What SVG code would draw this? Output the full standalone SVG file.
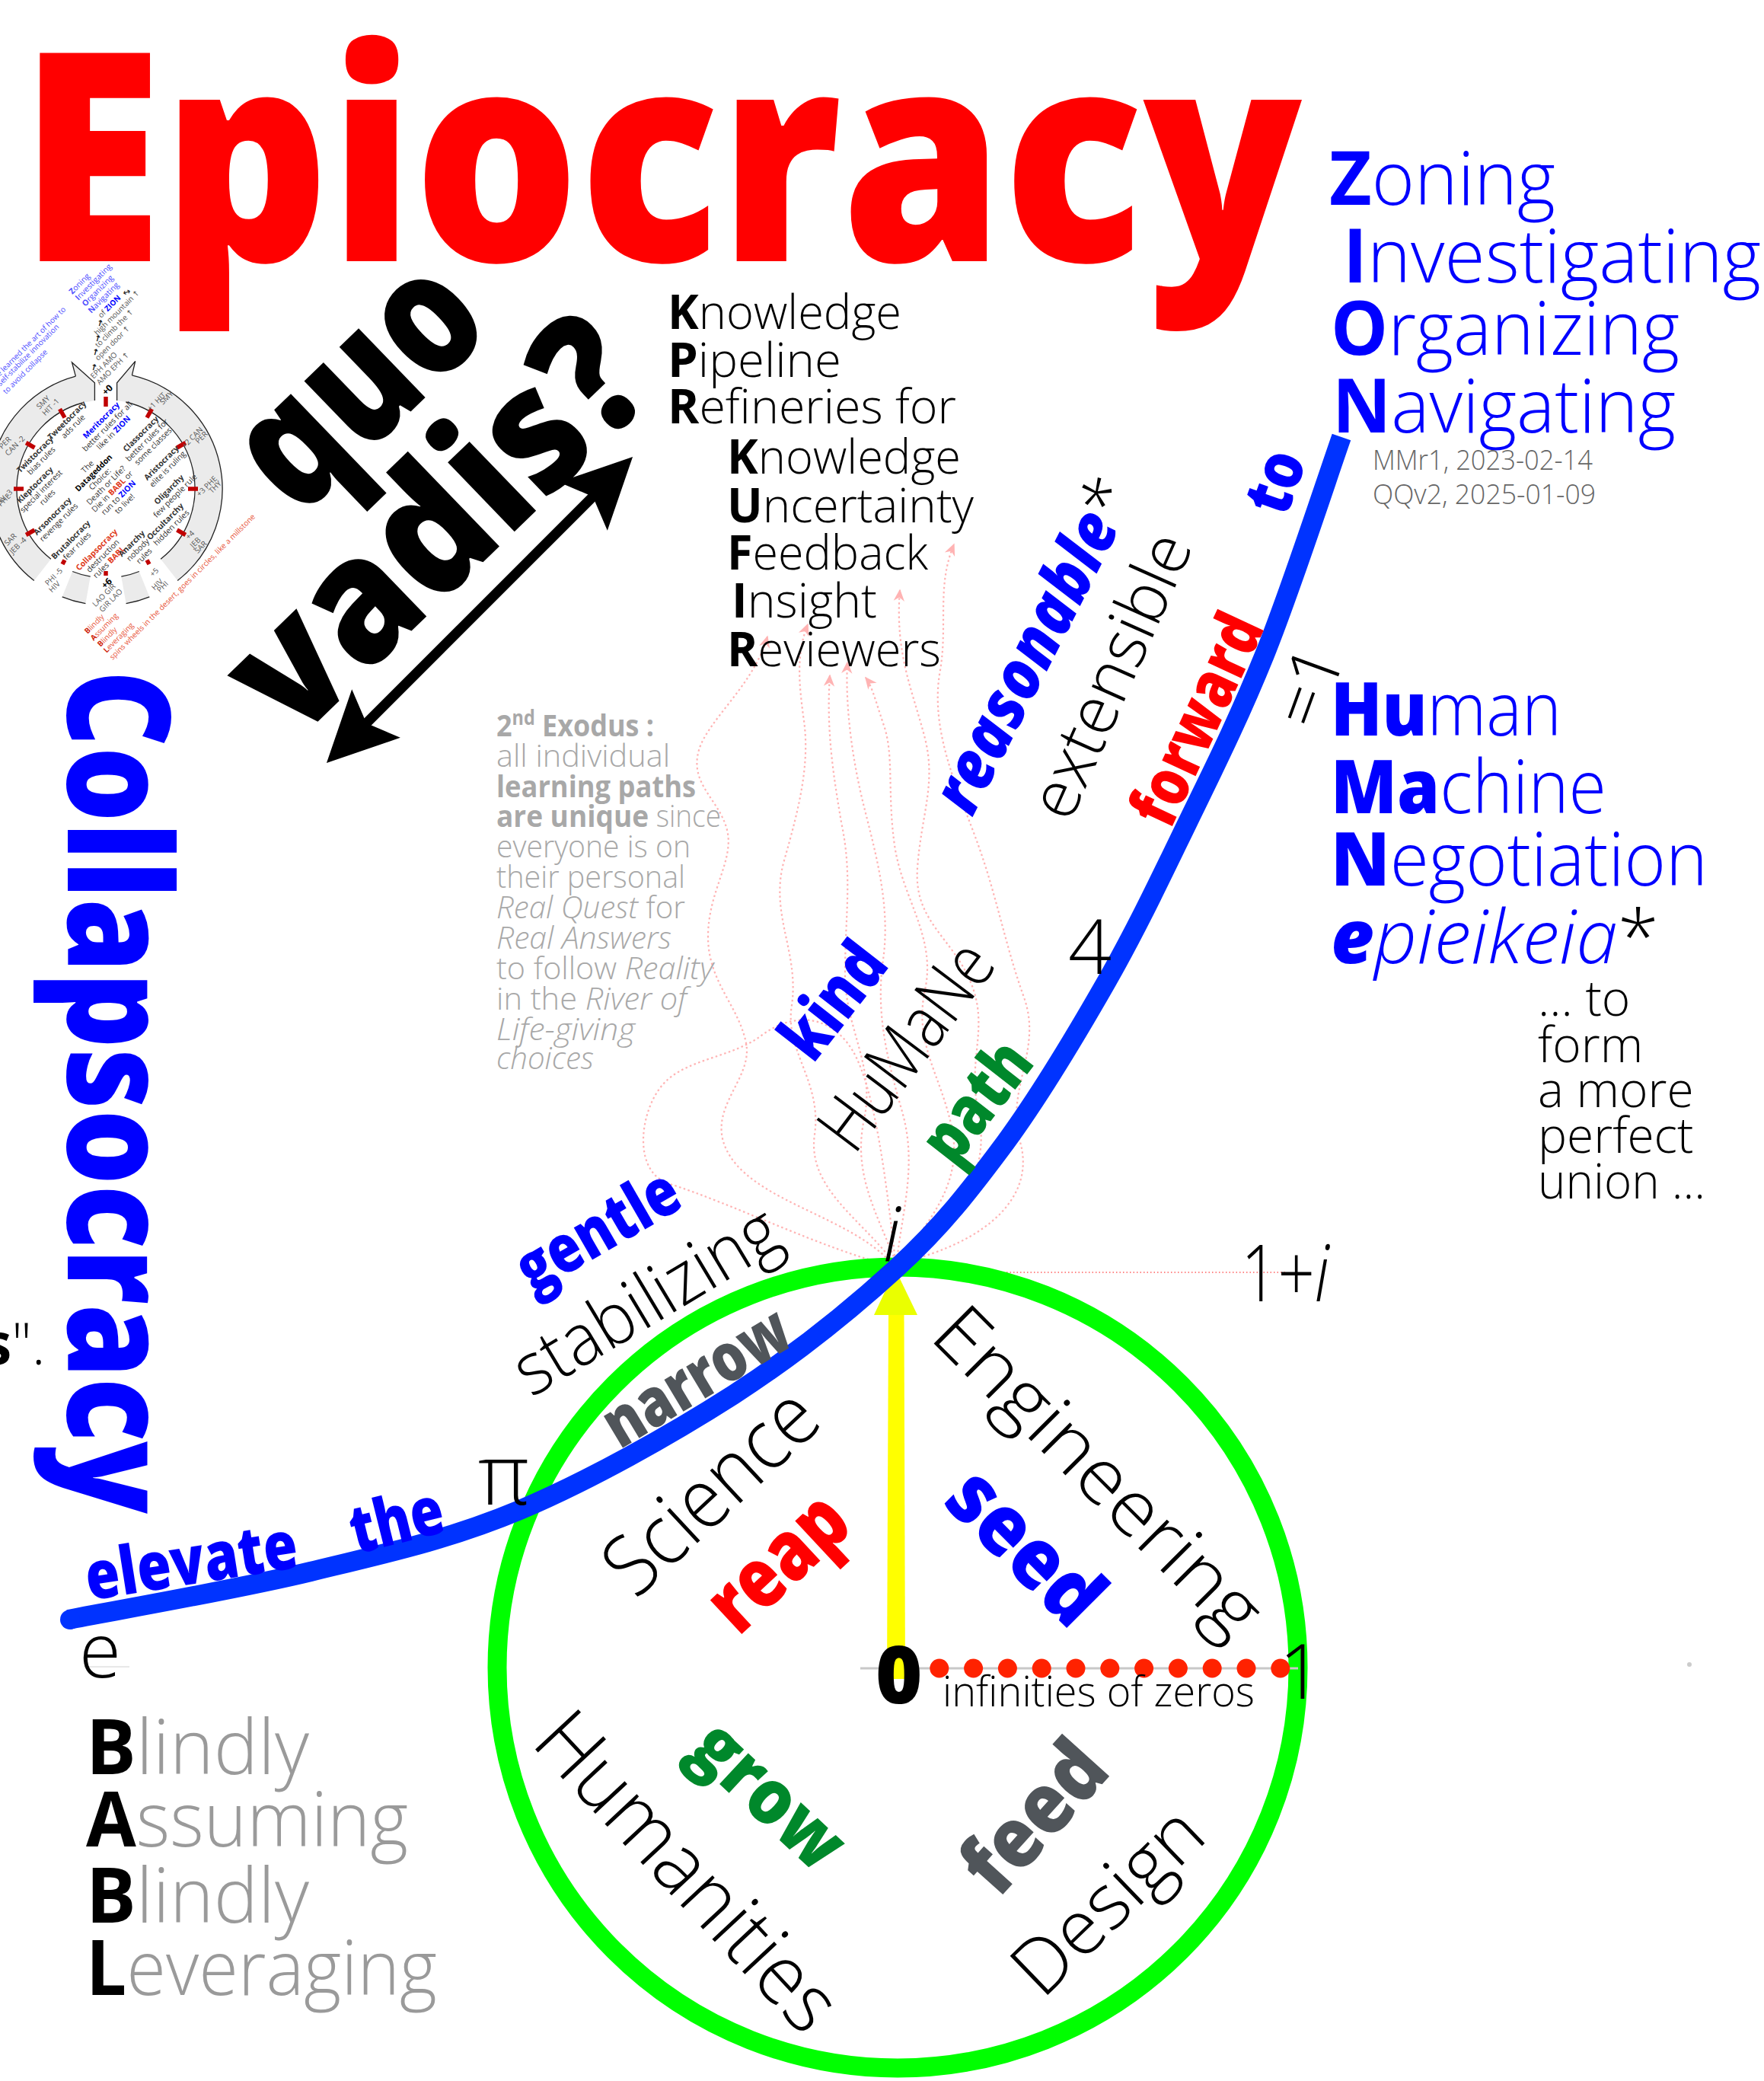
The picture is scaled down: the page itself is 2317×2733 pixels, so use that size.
<svg xmlns="http://www.w3.org/2000/svg" width="2317" height="2733" viewBox="0 0 2317 2733">
<defs>
<style>
text{font-family:"Open Sans","Noto Sans","DejaVu Sans",sans-serif;fill:#000}
.L{font-weight:300}.B{font-weight:700}.X{font-weight:800}.I{font-style:italic}.N{font-style:normal}
.blue{fill:#0000ff}.red{fill:#ff0000}.grn{fill:#00882b}.dg{fill:#50555a}.gry{fill:#a8a8a8}.g9{fill:#9a9a9a}.blk{fill:#000}.mg{fill:#666}
.lp{fill:none;stroke:#ffb3b3;stroke-width:2.2;stroke-dasharray:2.5 3.5;marker-end:url(#pa)}
.lp0{fill:none;stroke:#ffb3b3;stroke-width:2.2;stroke-dasharray:2.5 3.5}
.mt{font-size:10.5px;fill:#333}
.mr{font-size:10px;fill:#555}
.mb{font-size:10.5px;fill:#4d4dff}
.mred{font-size:10px;fill:#e8553a}
.arc{fill:none;stroke:#222;stroke-width:1.3}
.tick{stroke:#c00000;stroke-width:5.5}
</style>
<marker id="pa" viewBox="0 0 10 10" refX="9" refY="5" markerWidth="16" markerHeight="16" markerUnits="userSpaceOnUse" orient="auto"><path d="M0,0.5 L10,5 L0,9.5 L3,5 Z" fill="#ffb3b3"/></marker>
<marker id="bh" viewBox="-95 -50 100 100" refX="-20" refY="0" markerWidth="100" markerHeight="100" markerUnits="userSpaceOnUse" orient="auto-start-reverse"><path d="M0,0 L-92,-45 L-74,0 L-92,45 Z" fill="#000"/></marker>
</defs>
<rect width="2317" height="2733" fill="#fff"/>

<g id="mini-diagram">
<path fill="#ebebeb" d="M153.6,526 L153.6,502.8 L177.7,474.4 L173.4,492.9 A153,153 0 0 1 233.2,762.6 L211.1,734.2 A117,117 0 0 0 165.3,528 Z"/>
<path fill="#ebebeb" d="M66.9,734.2 L44.8,762.6 A153,153 0 0 1 99.4,494.2 L94.5,475.9 L124.4,502.8 L124.4,526 L108.7,529 A117,117 0 0 0 66.9,734.2 Z"/>
<path fill="#ebebeb" d="M196.3,783.8 A153,153 0 0 1 165.6,792.7 L159.3,757.2 A117,117 0 0 0 182.8,750.5 Z"/>
<path fill="#ebebeb" d="M112.4,792.7 A153,153 0 0 1 81.7,783.8 L95.2,750.5 A117,117 0 0 0 118.7,757.2 Z"/>
<path class="arc" d="M173.4,492.9 A153,153 0 0 1 233.2,762.6 M165.3,528 A117,117 0 0 1 211.1,734.2 M44.8,762.6 A153,153 0 0 1 99.4,494.2 M66.9,734.2 A117,117 0 0 1 108.7,529 M196.3,783.8 A153,153 0 0 1 165.6,792.7 M182.8,750.5 A117,117 0 0 1 159.3,757.2 M112.4,792.7 A153,153 0 0 1 81.7,783.8 M118.7,757.2 A117,117 0 0 1 95.2,750.5 M173.4,492.9 L177.7,474.4 L153.6,502.8 L153.6,526 M99.4,494.2 L94.5,475.9 L124.4,502.8 L124.4,526"/>
<g class="tick">
<line x1="139" y1="534" x2="139" y2="521"/>
<line x1="193" y1="548.5" x2="199.5" y2="537.2"/>
<line x1="232.5" y1="588" x2="243.8" y2="581.5"/>
<line x1="247" y1="642" x2="260" y2="642"/>
<line x1="232.5" y1="696" x2="243.8" y2="702.5"/>
<line x1="193" y1="735.5" x2="196" y2="741"/>
<line x1="139" y1="750" x2="139" y2="756"/>
<line x1="85" y1="735.5" x2="82" y2="741"/>
<line x1="45.5" y1="696" x2="34.2" y2="702.5"/>
<line x1="31" y1="642" x2="18" y2="642"/>
<line x1="45.5" y1="588" x2="34.2" y2="581.5"/>
<line x1="85" y1="548.5" x2="78.5" y2="537.2"/>
</g>
<text class="mr B" style="fill:#000;font-size:12px" transform="translate(144,515) rotate(-45)" text-anchor="middle">+0</text>
<text class="mr" transform="translate(208,530) rotate(-45)" text-anchor="middle">+1 HIT</text>
<text class="mr" transform="translate(221,525) rotate(-45)" text-anchor="middle">SMY</text>
<text class="mr" transform="translate(255,577) rotate(-45)" text-anchor="middle">+2 CAN</text>
<text class="mr" transform="translate(267,577) rotate(-45)" text-anchor="middle">PER</text>
<text class="mr" transform="translate(274,641) rotate(-45)" text-anchor="middle">+3 PHE</text>
<text class="mr" transform="translate(285,642) rotate(-45)" text-anchor="middle">THY</text>
<text class="mr" transform="translate(252,705) rotate(-45)" text-anchor="middle">+4</text>
<text class="mr" transform="translate(259,715) rotate(-45)" text-anchor="middle">JEB</text>
<text class="mr" transform="translate(266,721) rotate(-45)" text-anchor="middle">SAR</text>
<text class="mr" transform="translate(205,754) rotate(-45)" text-anchor="middle">+5</text>
<text class="mr" transform="translate(209,770) rotate(-45)" text-anchor="middle">HIV</text>
<text class="mr" transform="translate(216,773) rotate(-45)" text-anchor="middle">PHI</text>
<text class="mr B" style="fill:#000;font-size:12px" transform="translate(143,769) rotate(-45)" text-anchor="middle">+6</text>
<text class="mr" transform="translate(139,784) rotate(-45)" text-anchor="middle">LAO GIR</text>
<text class="mr" transform="translate(148,791) rotate(-45)" text-anchor="middle">GIR LAO</text>
<text class="mr" transform="translate(73,760) rotate(-45)" text-anchor="middle">PHI -5</text>
<text class="mr" transform="translate(74,773) rotate(-45)" text-anchor="middle">HIV</text>
<text class="mr" transform="translate(16,711) rotate(-45)" text-anchor="middle">SAR</text>
<text class="mr" transform="translate(26,719) rotate(-45)" text-anchor="middle">JEB -4</text>
<text class="mr" transform="translate(17,647) rotate(-45)" text-anchor="end">THY -3</text>
<text class="mr" transform="translate(8,659) rotate(-45)" text-anchor="middle">PHE</text>
<text class="mr" transform="translate(9,584) rotate(-45)" text-anchor="middle">PER</text>
<text class="mr" transform="translate(22,588) rotate(-45)" text-anchor="middle">CAN -2</text>
<text class="mr" transform="translate(59,531) rotate(-45)" text-anchor="middle">SMY</text>
<text class="mr" transform="translate(69,537) rotate(-45)" text-anchor="middle">HIT -1</text>
<text class="mt" transform="translate(88,552) rotate(-45)" text-anchor="middle"><tspan x="0" y="3.5" class="B">Tweetocracy</tspan><tspan x="0" dy="11.5">ads rule</tspan></text>
<text class="mt" transform="translate(133,552) rotate(-45)" text-anchor="middle"><tspan x="0" y="3.5" class="B" style="fill:#0000ff">Meritocracy</tspan><tspan x="0" dy="11.5">better rules for all</tspan><tspan x="0" dy="11.5">like in <tspan class="B" style="fill:#0000ff">ZION</tspan></tspan></text>
<text class="mt" transform="translate(185,570) rotate(-45)" text-anchor="middle"><tspan x="0" y="3.5" class="B">Classocracy</tspan><tspan x="0" dy="11.5">better rules for</tspan><tspan x="0" dy="11.5">some classes</tspan></text>
<text class="mt" transform="translate(46,597) rotate(-45)" text-anchor="middle"><tspan x="0" y="3.5" class="B">Twistocracy</tspan><tspan x="0" dy="11.5">bias rules</tspan></text>
<text class="mt" transform="translate(46,637) rotate(-45)" text-anchor="middle"><tspan x="0" y="3.5" class="B">Kleptocracy</tspan><tspan x="0" dy="11.5">special interest</tspan><tspan x="0" dy="11.5">rules</tspan></text>
<text class="mt" transform="translate(212,608) rotate(-45)" text-anchor="middle"><tspan x="0" y="3.5" class="B">Aristocracy</tspan><tspan x="0" dy="11.5">elite is ruling</tspan></text>
<text class="mt" transform="translate(222,643) rotate(-45)" text-anchor="middle"><tspan x="0" y="3.5" class="B">Oligarchy</tspan><tspan x="0" dy="11.5">few people rule</tspan></text>
<text class="mt" transform="translate(69,678) rotate(-45)" text-anchor="middle"><tspan x="0" y="3.5" class="B">Arsonocracy</tspan><tspan x="0" dy="11.5">revenge rules</tspan></text>
<text class="mt" transform="translate(217,685) rotate(-45)" text-anchor="middle"><tspan x="0" y="3.5" class="B">Occultarchy</tspan><tspan x="0" dy="11.5">hidden rules</tspan></text>
<text class="mt" transform="translate(93,709) rotate(-45)" text-anchor="middle"><tspan x="0" y="3.5" class="B">Brutalocracy</tspan><tspan x="0" dy="11.5">fear rules</tspan></text>
<text class="mt" transform="translate(127,722) rotate(-45)" text-anchor="middle"><tspan x="0" y="3.5" class="B" style="fill:#e03a20">Collapsocracy</tspan><tspan x="0" dy="11.5">destruction</tspan><tspan x="0" dy="11.5">rules <tspan class="B" style="fill:#e03a20">BABL</tspan></tspan></text>
<text class="mt" transform="translate(173,714) rotate(-45)" text-anchor="middle"><tspan x="0" y="3.5" class="B">Anarchy</tspan><tspan x="0" dy="11.5">nobody</tspan><tspan x="0" dy="11.5">rules</tspan></text>
<text class="mt" transform="translate(115,613) rotate(-45)" text-anchor="middle"><tspan x="0" y="3.5">The</tspan><tspan x="0" dy="11.5" class="B" style="fill:#000">Datageddon</tspan><tspan x="0" dy="11.5">Choice:</tspan><tspan x="0" dy="11.5">Death or Life?</tspan><tspan x="0" dy="11.5">Die in <tspan class="B" style="fill:#e03a20">BABL</tspan> or</tspan><tspan x="0" dy="11.5">run to <tspan class="B" style="fill:#0000ff">ZION</tspan></tspan><tspan x="0" dy="11.5">to live!</tspan></text>
<text class="mb" transform="translate(95,387) rotate(-45)"><tspan class="B">Z</tspan>oning</text>
<text class="mb" transform="translate(103,395) rotate(-45)"><tspan class="B">I</tspan>nvestigating</text>
<text class="mb" transform="translate(112,403) rotate(-45)"><tspan class="B">O</tspan>rganizing</text>
<text class="mb" transform="translate(120,412) rotate(-45)"><tspan class="B">N</tspan>avigating</text>
<text class="mr" transform="translate(133,418) rotate(-45)">of <tspan class="B" style="fill:#0000ff">ZION</tspan></text>
<text class="mr" transform="translate(128,441) rotate(-45)">high mountain ↑</text>
<text class="mr" transform="translate(129,457) rotate(-45)">to climb the ↑</text>
<text class="mr" transform="translate(129,474) rotate(-45)">open door ↑</text>
<text class="mr" transform="translate(123,498) rotate(-45)">EPH AMO</text>
<text class="mr" transform="translate(131,506) rotate(-45)">AMO EPH ↑</text>
<text class="mr" style="fill:#222;font-size:12px" transform="translate(163,389) rotate(-20)">↔</text>
<text class="mr B" style="fill:#111;font-size:11px" transform="translate(126,427) rotate(15)">↑</text>
<text class="mr B" style="fill:#111;font-size:11px" transform="translate(123,447) rotate(15)">↑</text>
<text class="mr B" style="fill:#111;font-size:11px" transform="translate(120,465) rotate(15)">↑</text>
<text class="mr B" style="fill:#111;font-size:11px" transform="translate(118,485) rotate(15)">↑</text>
<text class="mb" style="font-size:10px" transform="translate(87,407) rotate(-45)" text-anchor="end">we learned the art of how to</text>
<text class="mb" style="font-size:10px" transform="translate(78,430) rotate(-45)" text-anchor="end">self-stabilize innovation</text>
<text class="mb" style="font-size:10px" transform="translate(63,463) rotate(-45)" text-anchor="end">to avoid collapse</text>
<text class="mred" transform="translate(115,833) rotate(-45)"><tspan class="B" style="fill:#d02a10">B</tspan>lindly</text>
<text class="mred" transform="translate(123,842) rotate(-45)"><tspan class="B" style="fill:#d02a10">A</tspan>ssuming</text>
<text class="mred" transform="translate(132,850) rotate(-45)"><tspan class="B" style="fill:#d02a10">B</tspan>lindly</text>
<text class="mred" transform="translate(140,858) rotate(-45)"><tspan class="B" style="fill:#d02a10">L</tspan>everaging</text>
<text class="mred" transform="translate(148,867) rotate(-45)">spins wheels in the desert, goes in circles, like a millstone</text>
</g>

<g id="connectors">
<g id="learning-paths">
<path class="lp" d="M1172,1660 C1120,1600 1000,1580 960,1520 C920,1460 990,1420 980,1370 C970,1320 930,1290 930,1230 C930,1170 965,1130 955,1090 C945,1050 905,1030 918,985 C930,945 990,900 1008,836"/>
<path class="lp" d="M1174,1658 C1130,1600 1060,1560 1070,1490 C1080,1420 1030,1380 1040,1320 C1050,1250 1010,1200 1030,1130 C1050,1060 1065,1000 1055,940 C1050,900 1045,860 1061,820"/>
<path class="lp" d="M1176,1656 C1150,1590 1120,1540 1135,1470 C1150,1400 1110,1350 1110,1280 C1110,1200 1120,1150 1105,1080 C1095,1020 1085,960 1090,887"/>
<path class="lp" d="M1178,1656 C1185,1590 1205,1530 1185,1460 C1165,1390 1150,1330 1160,1260 C1170,1190 1150,1120 1135,1060 C1120,1000 1110,930 1113,870"/>
<path class="lp" d="M1180,1656 C1225,1600 1265,1550 1250,1480 C1235,1410 1200,1370 1215,1300 C1230,1230 1185,1180 1175,1110 C1165,1040 1175,990 1160,950 C1150,920 1145,900 1137,890"/>
<path class="lp" d="M1182,1656 C1270,1600 1300,1530 1285,1460 C1270,1390 1300,1350 1275,1290 C1250,1230 1200,1210 1205,1140 C1210,1070 1230,1030 1215,970 C1200,910 1175,860 1182,775"/>
<path class="lp" d="M1184,1658 C1300,1630 1360,1570 1340,1500 C1320,1430 1370,1380 1345,1310 C1320,1240 1310,1180 1285,1110 C1260,1040 1220,960 1235,880 C1245,820 1230,770 1253,715"/>
<path class="lp0" d="M1170,1662 C1080,1640 960,1580 880,1555 C830,1540 840,1460 870,1425 C900,1390 960,1390 1000,1360 C1040,1330 1090,1330 1120,1380 C1150,1430 1165,1560 1176,1656"/>
</g>
<line x1="1178" y1="1671" x2="1690" y2="1671" stroke="#ff6060" stroke-width="1.3" stroke-dasharray="1.5 3"/>
<line id="quo-vadis-arrow" x1="443.1" y1="987.9" x2="816.9" y2="614.1" stroke="#000" stroke-width="13" marker-start="url(#bh)" marker-end="url(#bh)"/>
</g>

<g id="unit-circle">
<circle cx="1179" cy="2190" r="526" fill="none" stroke="#00ff00" stroke-width="25"/>
<line x1="1130" y1="2191" x2="1705" y2="2191" stroke="#c8c8c8" stroke-width="3"/>
<line x1="110" y1="2189" x2="170" y2="2189" stroke="#e8e8e8" stroke-width="2"/>
<line x1="1189" y1="2191" x2="1690" y2="2191" stroke="#ff2200" stroke-width="25" stroke-linecap="round" stroke-dasharray="0 44.8"/>
<polygon points="1165,2205 1189,2205 1187.5,1725 1167,1725" fill="#ffff00"/>
<polygon points="1148,1727 1205,1727 1176,1667" fill="#eaff00"/>
</g>

<g id="curve">
<path d="M90,2127 C143,2116.5 309,2088 408,2064 C507,2040 590,2022 683,1983 C775,1944 880,1885 963,1832 C1045,1779 1118,1720 1178,1665 C1238,1610 1275,1562 1321,1500 C1367,1437 1413,1360 1453,1290 C1493,1220 1525,1152 1560,1080 C1595,1008 1627,944 1661,860 C1695,776 1745,622 1762,574" fill="none" stroke="#0033ff" stroke-width="26"/>
<circle cx="92" cy="2127" r="13" fill="#0033ff"/>
</g>

<g id="title">
<text x="26" y="343" font-size="383" class="X red" textLength="1684" lengthAdjust="spacingAndGlyphs">Epiocracy</text>
</g>

<g id="quo-vadis">
<text font-size="228" class="X" transform="translate(393,682) rotate(-44)" textLength="360" lengthAdjust="spacingAndGlyphs">quo</text>
<text font-size="228" class="X" transform="translate(386,978) rotate(-44)" textLength="668" lengthAdjust="spacingAndGlyphs">vadis?</text>
</g>

<g id="collapsocracy">
<text font-size="188" class="X blue" transform="translate(89,880) rotate(90)" textLength="1108" lengthAdjust="spacingAndGlyphs">Collapsocracy</text>
<text x="-22" y="1792" font-size="75"><tspan class="B">s</tspan><tspan class="L">".</tspan></text>
</g>

<g id="kpr-kufir" font-size="62">
<text x="877" y="432" class="L" textLength="307" lengthAdjust="spacingAndGlyphs"><tspan class="B">K</tspan>nowledge</text>
<text x="877" y="495" class="L" textLength="228" lengthAdjust="spacingAndGlyphs"><tspan class="B">P</tspan>ipeline</text>
<text x="877" y="556" class="L" textLength="379" lengthAdjust="spacingAndGlyphs"><tspan class="B">R</tspan>efineries for</text>
<text x="955" y="622" class="L" textLength="307" lengthAdjust="spacingAndGlyphs"><tspan class="B">K</tspan>nowledge</text>
<text x="955" y="686" class="L" textLength="324" lengthAdjust="spacingAndGlyphs"><tspan class="B">U</tspan>ncertainty</text>
<text x="955" y="748" class="L" textLength="264" lengthAdjust="spacingAndGlyphs"><tspan class="B">F</tspan>eedback</text>
<text x="961" y="811" class="L" textLength="191" lengthAdjust="spacingAndGlyphs"><tspan class="B">I</tspan>nsight</text>
<text x="955" y="875" class="L" textLength="281" lengthAdjust="spacingAndGlyphs"><tspan class="B">R</tspan>eviewers</text>
</g>

<g id="zion" font-size="98">
<text x="1746" y="269" class="L blue" textLength="297" lengthAdjust="spacingAndGlyphs"><tspan class="B">Z</tspan>oning</text>
<text x="1764" y="371" class="L blue" textLength="549" lengthAdjust="spacingAndGlyphs"><tspan class="B">I</tspan>nvestigating</text>
<text x="1748" y="466" class="L blue" textLength="458" lengthAdjust="spacingAndGlyphs"><tspan class="B">O</tspan>rganizing</text>
<text x="1750" y="568" class="L blue" textLength="451" lengthAdjust="spacingAndGlyphs"><tspan class="B">N</tspan>avigating</text>
<text x="1803" y="617" font-size="37" class="L mg" textLength="289" lengthAdjust="spacingAndGlyphs">MMr1, 2023-02-14</text>
<text x="1803" y="662" font-size="37" class="L mg" textLength="293" lengthAdjust="spacingAndGlyphs">QQv2, 2025-01-09</text>
</g>

<g id="hmn" font-size="97">
<text x="1748" y="966" class="L blue" textLength="303" lengthAdjust="spacingAndGlyphs"><tspan class="X">Hu</tspan>man</text>
<text x="1748" y="1068" class="L blue" textLength="362" lengthAdjust="spacingAndGlyphs"><tspan class="X">Ma</tspan>chine</text>
<text x="1748" y="1163" class="L blue" textLength="495" lengthAdjust="spacingAndGlyphs"><tspan class="X">N</tspan>egotiation</text>
<text x="1748" y="1265" class="L I blue" textLength="431" lengthAdjust="spacingAndGlyphs"><tspan class="X">e</tspan>pieikeia<tspan class="N blk">*</tspan></text>
<g font-size="64" class="L">
<text x="2020" y="1334" class="L">... to</text>
<text x="2020" y="1395" class="L">form</text>
<text x="2020" y="1454" class="L">a more</text>
<text x="2020" y="1514" class="L">perfect</text>
<text x="2020" y="1574" class="L" textLength="220" lengthAdjust="spacingAndGlyphs">union ...</text>
</g>
</g>

<g id="exodus" font-size="40">
<text x="652" y="967" class="B gry" textLength="207" lengthAdjust="spacingAndGlyphs">2<tspan font-size="26" dy="-15">nd</tspan><tspan dy="15"> Exodus :</tspan></text>
<text x="652" y="1007" class="L gry" textLength="228" lengthAdjust="spacingAndGlyphs">all individual</text>
<text x="652" y="1047" class="B gry" textLength="262" lengthAdjust="spacingAndGlyphs">learning paths</text>
<text x="652" y="1086" class="L gry" textLength="295" lengthAdjust="spacingAndGlyphs"><tspan class="B">are unique</tspan> since</text>
<text x="652" y="1126" class="L gry" textLength="255" lengthAdjust="spacingAndGlyphs">everyone is on</text>
<text x="652" y="1166" class="L gry" textLength="248" lengthAdjust="spacingAndGlyphs">their personal</text>
<text x="652" y="1206" class="L gry" textLength="248" lengthAdjust="spacingAndGlyphs"><tspan class="I">Real Quest</tspan> for</text>
<text x="652" y="1246" class="L I gry" textLength="230" lengthAdjust="spacingAndGlyphs">Real Answers</text>
<text x="652" y="1286" class="L gry" textLength="285" lengthAdjust="spacingAndGlyphs">to follow <tspan class="I">Reality</tspan></text>
<text x="652" y="1326" class="L gry" textLength="250" lengthAdjust="spacingAndGlyphs">in the <tspan class="I">River of</tspan></text>
<text x="652" y="1366" class="L I gry" textLength="182" lengthAdjust="spacingAndGlyphs">Life-giving</text>
<text x="652" y="1404" class="L I gry" textLength="128" lengthAdjust="spacingAndGlyphs">choices</text>
</g>

<g id="babl" font-size="100">
<text x="113" y="2330" class="L g9" textLength="293" lengthAdjust="spacingAndGlyphs"><tspan class="B blk">B</tspan>lindly</text>
<text x="113" y="2425" class="L g9" textLength="423" lengthAdjust="spacingAndGlyphs"><tspan class="B blk">A</tspan>ssuming</text>
<text x="113" y="2525" class="L g9" textLength="293" lengthAdjust="spacingAndGlyphs"><tspan class="B blk">B</tspan>lindly</text>
<text x="113" y="2620" class="L g9" textLength="461" lengthAdjust="spacingAndGlyphs"><tspan class="B blk">L</tspan>everaging</text>
</g>

<g id="numbers">
<text x="104" y="2203" font-size="100" class="L">e</text>
<text x="628" y="1976" font-size="110" class="L">π</text>
<text x="1160" y="1657" font-size="100" class="L I">i</text>
<text x="1150" y="2237" font-size="105" class="X">0</text>
<text x="1680" y="2231" font-size="100" class="L">1</text>
<text x="1238" y="2241" font-size="55" class="L" textLength="410" lengthAdjust="spacingAndGlyphs">infinities of zeros</text>
<text x="1630" y="1709" font-size="104" class="L" textLength="116" lengthAdjust="spacingAndGlyphs">1+<tspan class="I">i</tspan></text>
<text x="1403" y="1279" font-size="100" class="L">4</text>
<text font-size="92" class="L" transform="translate(1731,962) rotate(-70)">=1</text>
<circle cx="2219" cy="2186" r="3" fill="#cccccc"/>
</g>

<g id="path-words">
<text font-size="88" class="X blue" transform="translate(117,2102) rotate(-9)" textLength="281" lengthAdjust="spacingAndGlyphs">elevate</text>
<text font-size="88" class="X blue" transform="translate(468,2041) rotate(-14)" textLength="124" lengthAdjust="spacingAndGlyphs">the</text>
<text font-size="88" class="X blue" transform="translate(699,1700) rotate(-30)" textLength="233" lengthAdjust="spacingAndGlyphs">gentle</text>
<text font-size="95" class="L" transform="translate(698,1836) rotate(-31)" textLength="390" lengthAdjust="spacingAndGlyphs">stabilizing</text>
<text font-size="88" class="X dg" transform="translate(814,1904) rotate(-31)" textLength="271" lengthAdjust="spacingAndGlyphs">narrow</text>
<text font-size="110" class="L" transform="translate(835,2102) rotate(-43)" textLength="340" lengthAdjust="spacingAndGlyphs">Science</text>
<text font-size="110" class="X red" transform="translate(970,2150) rotate(-43)" textLength="210" lengthAdjust="spacingAndGlyphs">reap</text>
<text font-size="90" class="X blue" transform="translate(1068,1398) rotate(-52)" textLength="165" lengthAdjust="spacingAndGlyphs">kind</text>
<text font-size="95" class="L" transform="translate(1122,1518) rotate(-53)" textLength="314" lengthAdjust="spacingAndGlyphs">HuMaNe</text>
<text font-size="90" class="X grn" transform="translate(1253,1534) rotate(-52)" textLength="175" lengthAdjust="spacingAndGlyphs">path</text>
<text font-size="90" class="X I blue" transform="translate(1277,1074) rotate(-63)" textLength="430" lengthAdjust="spacingAndGlyphs">reasonable</text>
<text font-size="90" class="L" transform="translate(1472,691) rotate(-63)">*</text>
<text font-size="88" class="L" transform="translate(1405,1082) rotate(-66)" textLength="400" lengthAdjust="spacingAndGlyphs">extensible</text>
<text font-size="88" class="X red" transform="translate(1537,1091) rotate(-65)" textLength="295" lengthAdjust="spacingAndGlyphs">forward</text>
<text font-size="88" class="X blue" transform="translate(1689,681) rotate(-70)" textLength="82" lengthAdjust="spacingAndGlyphs">to</text>
<text font-size="100" class="L" transform="translate(1219,1757) rotate(45)" textLength="565" lengthAdjust="spacingAndGlyphs">Engineering</text>
<text font-size="110" class="X blue" transform="translate(1236,1973) rotate(45)" textLength="240" lengthAdjust="spacingAndGlyphs">seed</text>
<text font-size="100" class="X grn" transform="translate(901,2302) rotate(43)" textLength="235" lengthAdjust="spacingAndGlyphs">grow</text>
<text font-size="110" class="X dg" transform="translate(1311,2495) rotate(-48)" textLength="225" lengthAdjust="spacingAndGlyphs">feed</text>
<text font-size="108" class="L" transform="translate(696,2290) rotate(47)" textLength="528" lengthAdjust="spacingAndGlyphs">Humanities</text>
<text font-size="100" class="L" transform="translate(1369,2627) rotate(-44)" textLength="305" lengthAdjust="spacingAndGlyphs">Design</text>
</g>
</svg>
